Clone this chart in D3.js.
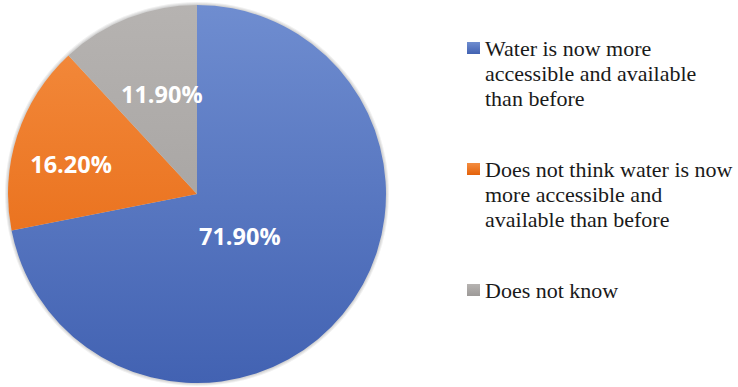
<!DOCTYPE html>
<html>
<head>
<meta charset="utf-8">
<script src="https://cdn.jsdelivr.net/npm/d3@7"></script>
</head>
<body style="margin:0">
<script>
let width = 738, height = 387
let cx = 197, cy = 194, radius = 189

// data
let categories = [
    'Water is now more accessible and available than before',
    'Does not think water is now more accessible and available than before',
    'Does not know'
]
let values = [71.9, 16.2, 11.9]
let valueLabels = ['71.90%', '16.20%', '11.90%']
let legendLines = [
    ['Water is now more', 'accessible and available', 'than before'],
    ['Does not think water is now', 'more accessible and', 'available than before'],
    ['Does not know']
]
let colorsTop = ['#6f8dd0', '#f48d40', '#b6b3b1']
let colorsBottom = ['#4262b2', '#e4620a', '#9d9a98']

let svg = d3.select('body').append('svg')
    .attr('width', width).attr('height', height)

let defs = svg.append('defs')
colorsTop.forEach((c, i) => {
    let g = defs.append('linearGradient')
        .attr('id', 'grad' + i)
        .attr('gradientUnits', 'userSpaceOnUse')
        .attr('x1', 0).attr('y1', -radius).attr('x2', 0).attr('y2', radius)
    g.append('stop').attr('offset', '0%').attr('stop-color', c)
    g.append('stop').attr('offset', '100%').attr('stop-color', colorsBottom[i])
    let lg = defs.append('linearGradient').attr('id', 'lgrad' + i)
        .attr('x1', 0).attr('y1', 0).attr('x2', 0).attr('y2', 1)
    lg.append('stop').attr('offset', '0%').attr('stop-color', c)
    lg.append('stop').attr('offset', '100%').attr('stop-color', colorsBottom[i])
})

let pie = d3.pie().sort(null).value(d => d)
let arc = d3.arc().innerRadius(0).outerRadius(radius)
let arcs = pie(values)

let g = svg.append('g').attr('transform', `translate(${cx}, ${cy})`)
// soft edge shadow
;[3, 2, 1].forEach(k => {
    g.append('circle').attr('r', radius + k)
        .attr('fill', '#000').attr('fill-opacity', 0.06)
})
g.append('g')
    .selectAll('path')
    .data(arcs)
    .join('path')
    .attr('d', arc)
    .attr('fill', (d, i) => `url(#grad${i})`)

// label placement: fraction of radius and small angle nudge (degrees)
let labelRadius = [0.32, 0.684, 0.56]
let labelNudge = [5.6, -5, 2]
g.selectAll('text.val')
    .data(arcs)
    .join('text')
    .attr('class', 'val')
    .attr('transform', (d, i) => {
        let a = (d.startAngle + d.endAngle) / 2 + labelNudge[i] * Math.PI / 180
        let r = radius * labelRadius[i]
        return `translate(${r * Math.sin(a)}, ${-r * Math.cos(a)})`
    })
    .attr('text-anchor', 'middle')
    .attr('dy', '0.36em')
    .attr('fill', '#fff')
    .style('font-family', '"Open Sans"')
    .attr('font-weight', 'bold')
    .attr('font-size', 23.5)
    .text((d, i) => valueLabels[i])

// legend
let legendX = 467, legendTops = [56, 177, 298], lineH = 25
let legend = svg.append('g')
legendLines.forEach((lines, i) => {
    legend.append('rect')
        .attr('x', legendX).attr('y', legendTops[i] - 14)
        .attr('width', 13).attr('height', 12)
        .attr('fill', `url(#lgrad${i})`)
    legend.append('g').selectAll('text')
        .data(lines)
        .join('text')
        .attr('x', legendX + 18)
        .attr('y', (d, j) => legendTops[i] + j * lineH)
        .attr('font-family', 'Liberation Serif, Tinos, Times New Roman')
        .style('font-family', '"Liberation Serif", "Tinos", "Times New Roman"')
        .attr('font-size', 22)
        .attr('fill', '#1a1a1a')
        .text(d => d)
})
</script>
</body>
</html>
